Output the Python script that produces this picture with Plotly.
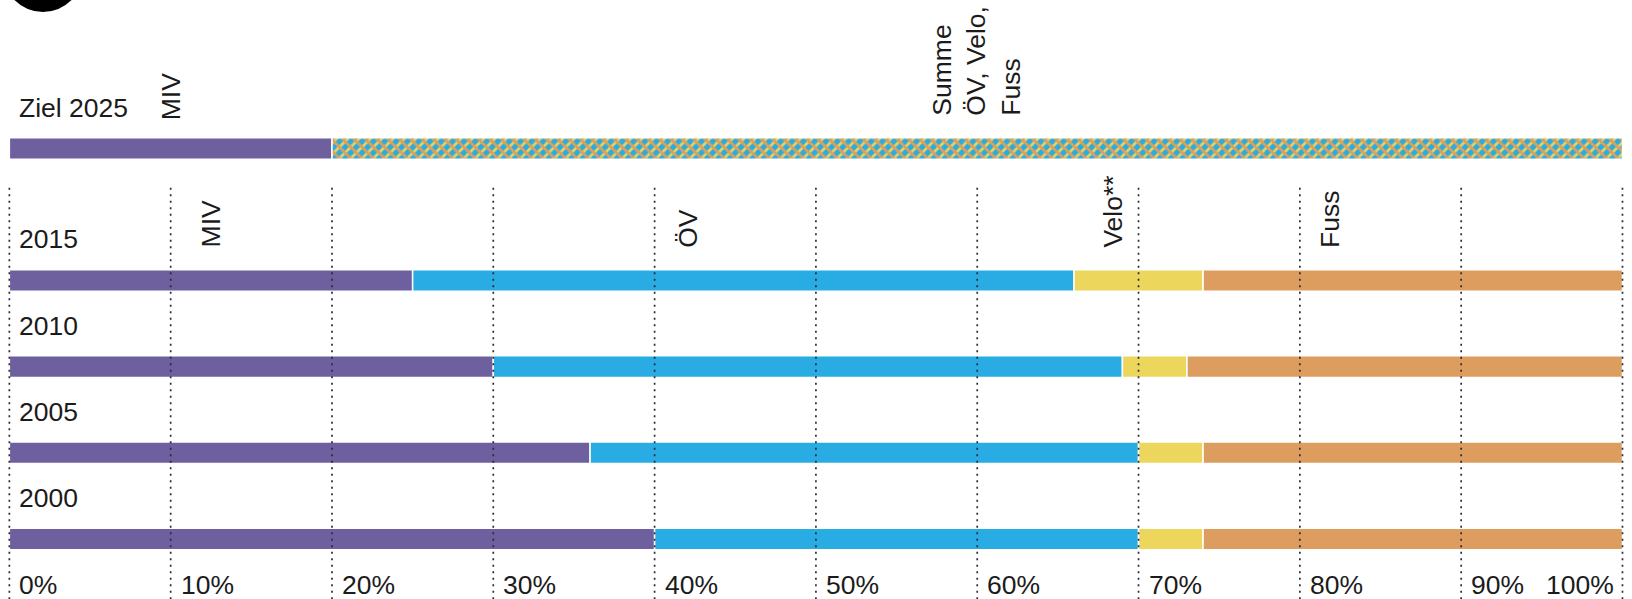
import numpy as np
import plotly.graph_objects as go

# ---------------- data ----------------
years = ["2015", "2010", "2005", "2000"]
miv = [25, 30, 36, 40]
oev = [41, 39, 34, 30]
velo = [8, 4, 4, 4]
fuss = [26, 27, 26, 26]

ziel_label = "Ziel 2025"
ziel_miv = 20
ziel_rest = 80

tick_vals = [0, 10, 20, 30, 40, 50, 60, 70, 80, 90, 100]
tick_text = ["0%", "10%", "20%", "30%", "40%", "50%", "60%", "70%", "80%", "90%", "100%"]

# ---------------- style / layout ----------------
C_MIV = "#6E5F9E"
C_OEV = "#29ACE3"
C_VELO = "#ECD75C"
C_FUSS = "#DC9D5E"
C_HATCH_A = "#EAD35A"
C_HATCH_B = "#DE9E5E"
FONT = "Liberation Sans, Arial, Helvetica, sans-serif"
FS = 26.5
TXT = "#1b1b1b"

row_pos = {"2000": 0.0, "2005": 1.0, "2010": 2.0, "2015": 3.0}
ziel_pos = 4.53
BAR_W = 0.25

fig = go.Figure()

ys = [row_pos[y] for y in years]
miv_a = np.array(miv, float)
oev_a = np.array(oev, float)
velo_a = np.array(velo, float)
fuss_a = np.array(fuss, float)
bases = [np.zeros(len(years)), miv_a, miv_a + oev_a, miv_a + oev_a + velo_a]
vals = [miv_a, oev_a, velo_a, fuss_a]
cols = [C_MIV, C_OEV, C_VELO, C_FUSS]
names = ["MIV", "ÖV", "Velo", "Fuss"]
for v, b, c, n in zip(vals, bases, cols, names):
    fig.add_trace(go.Bar(
        x=v, y=ys, base=b, orientation="h", width=BAR_W, name=n,
        marker=dict(color=c, line=dict(color="white", width=1.5)),
        hoverinfo="skip",
    ))

# Ziel 2025
fig.add_trace(go.Bar(
    x=[ziel_miv], y=[ziel_pos], base=[0], orientation="h", width=BAR_W,
    marker=dict(color=C_MIV, line=dict(color="white", width=1.5)), hoverinfo="skip",
))
fig.add_trace(go.Bar(
    x=[ziel_rest], y=[ziel_pos], base=[ziel_miv], orientation="h", width=BAR_W,
    marker=dict(color=C_OEV, line=dict(color="white", width=0),
                pattern=dict(shape="/", fgcolor=C_HATCH_A, bgcolor=C_OEV,
                             size=8, solidity=0.35, fillmode="replace")),
    hoverinfo="skip",
))
fig.add_trace(go.Bar(
    x=[ziel_rest], y=[ziel_pos], base=[ziel_miv], orientation="h", width=BAR_W,
    marker=dict(color="rgba(0,0,0,0)", line=dict(color="white", width=1.5),
                pattern=dict(shape="\\", fgcolor=C_HATCH_B, bgcolor="rgba(0,0,0,0)",
                             size=8, solidity=0.35, fillmode="replace")),
    hoverinfo="skip",
))

# dotted gridlines
Y_BOTTOM = -0.70
Y_GRID_TOP = 4.08
for t in tick_vals:
    fig.add_shape(type="line", x0=t, x1=t, y0=Y_BOTTOM, y1=Y_GRID_TOP,
                  xref="x", yref="y", layer="above",
                  line=dict(color="#2a2a3a", width=1.7, dash="2px,4.5px"))

annotations = []
for t, lab in zip(tick_vals, tick_text):
    if t == 100:
        annotations.append(dict(x=t - 0.4, y=-0.53, text=lab, xanchor="right", yanchor="middle",
                                showarrow=False, font=dict(size=FS, color=TXT, family=FONT)))
    else:
        annotations.append(dict(x=t + 0.5, y=-0.53, text=lab, xanchor="left", yanchor="middle",
                                showarrow=False, font=dict(size=FS, color=TXT, family=FONT)))
for y in years:
    annotations.append(dict(x=0.5, y=row_pos[y] + 0.475, text=y, xanchor="left", yanchor="middle",
                            showarrow=False, font=dict(size=FS, color=TXT, family=FONT)))
annotations.append(dict(x=0.5, y=ziel_pos + 0.47, text=ziel_label, xanchor="left", yanchor="middle",
                        showarrow=False, font=dict(size=FS, color=TXT, family=FONT)))

rot = [
    ("MIV", 10.0, ziel_pos + 0.307),
    ("Summe<br>ÖV, Velo,<br>Fuss", 59.9, ziel_pos + 0.354),
    ("MIV", 12.5, 3 + 0.354),
    ("ÖV", 42.1, 3 + 0.354),
    ("Velo**", 68.4, 3 + 0.354),
    ("Fuss", 81.9, 3 + 0.354),
]
for txt, x, y in rot:
    annotations.append(dict(x=x, y=y, text=txt, textangle=-90, xanchor="center", yanchor="bottom",
                            align="left", showarrow=False,
                            font=dict(size=FS, color=TXT, family=FONT)))

# partial black circle (logo) at top left
fig.add_shape(type="circle", xref="paper", yref="paper",
              x0=(43 - 40) / 1632, x1=(43 + 40) / 1632,
              y0=1 - (-28 + 40) / 599, y1=1 - (-28 - 40) / 599,
              fillcolor="black", line=dict(width=0), layer="above")

fig.update_layout(
    width=1632, height=599,
    margin=dict(l=0, r=0, t=0, b=0),
    barmode="overlay",
    showlegend=False,
    plot_bgcolor="white", paper_bgcolor="white",
    xaxis=dict(range=[-0.58, 100.59], visible=False, fixedrange=True),
    yaxis=dict(range=[-0.696, 6.253], visible=False, fixedrange=True),
    annotations=annotations,
    font=dict(family=FONT),
)

fig.write_html("out.html", config={"displayModeBar": False},
               post_script="document.body.style.margin='0';document.body.style.overflow='hidden';")
